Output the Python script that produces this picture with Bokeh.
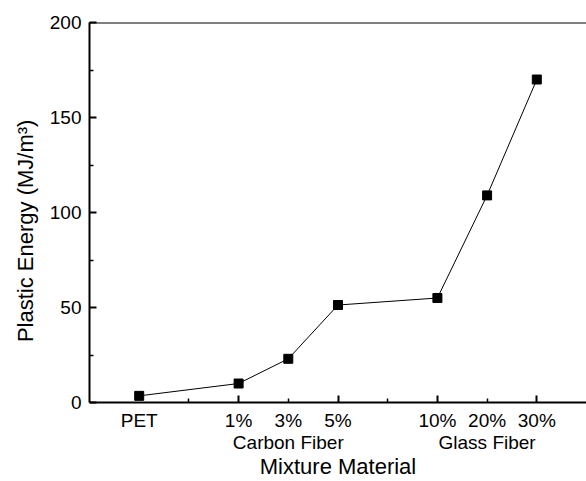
from bokeh.plotting import figure
from bokeh.models import FixedTicker, LinearAxis, Range1d, Span
from bokeh.embed import file_html
from bokeh.resources import INLINE

# ---- data ----
categories = ["PET", "1%", "3%", "5%", "10%", "20%", "30%"]
x_pos = [0, 2, 3, 4, 6, 7, 8]
energy = [3.5, 10, 23, 51.3, 55, 109, 170]
group_labels = ["Carbon Fiber", "Glass Fiber"]
group_pos = [3, 7]
y_ticks = [0, 50, 100, 150, 200]
y_minor = [25, 75, 125, 175]
x_major_marks = [2, 4, 6, 8]
x_minor_marks = [1, 3, 5, 7]

FONT = "Liberation Sans"
TICK_SIZE = "19px"
LABEL_SIZE = "22px"

p = figure(width=586, height=481, output_backend="svg", toolbar_location=None,
           x_range=Range1d(-1, 9), y_range=Range1d(0, 200),
           min_border_left=89, min_border_right=0, min_border_top=22,
           min_border_bottom=79)
p.background_fill_color = "white"
p.border_fill_color = "white"
p.outline_line_color = None
p.grid.visible = False

# data
p.line(x_pos, energy, line_color="black", line_width=1)
p.scatter(x_pos, energy, marker="square", size=9, fill_color="black", line_color="black")

# top border line
p.add_layout(Span(location=200, dimension="width", line_color="black", line_width=2))

# y axis
ya = p.yaxis[0]
ya.ticker = FixedTicker(ticks=y_ticks, minor_ticks=y_minor)
ya.axis_label = "Plastic Energy (MJ/m³)" + "\u00a0" * 6
ya.axis_label_text_font = FONT
ya.axis_label_text_font_style = "normal"
ya.axis_label_text_font_size = LABEL_SIZE
ya.axis_label_text_color = "black"
ya.axis_label_standoff = 9
ya.major_label_text_font = FONT
ya.major_label_text_font_size = TICK_SIZE
ya.major_label_text_color = "black"
ya.major_label_standoff = 8
ya.axis_line_width = 2
ya.major_tick_in = 7
ya.major_tick_out = 0
ya.minor_tick_in = 4
ya.minor_tick_out = 0
ya.major_tick_line_width = 2
ya.minor_tick_line_width = 1.5

# x axis: tick marks only
xa = p.xaxis[0]
xa.ticker = FixedTicker(ticks=x_major_marks, minor_ticks=x_minor_marks)
xa.major_label_overrides = {x: "" for x in x_major_marks}
xa.major_label_text_font_size = "1px"
xa.major_label_standoff = 0
xa.axis_line_width = 2
xa.major_tick_in = 7
xa.major_tick_out = 0
xa.minor_tick_in = 4
xa.minor_tick_out = 0
xa.major_tick_line_width = 2
xa.minor_tick_line_width = 1.5

# x axis: category labels
xl = LinearAxis(ticker=FixedTicker(ticks=x_pos, minor_ticks=[]),
                major_label_overrides={x: c for x, c in zip(x_pos, categories)})
xl.axis_line_color = None
xl.major_tick_line_color = None
xl.minor_tick_line_color = None
xl.major_tick_in = 0
xl.major_tick_out = 0
xl.major_label_standoff = 7
xl.major_label_text_font = FONT
xl.major_label_text_font_size = TICK_SIZE
xl.major_label_text_color = "black"
p.add_layout(xl, "below")

# x axis: group labels + title
xg = LinearAxis(ticker=FixedTicker(ticks=group_pos, minor_ticks=[]),
                major_label_overrides={x: g for x, g in zip(group_pos, group_labels)})
xg.axis_line_color = None
xg.major_tick_line_color = None
xg.minor_tick_line_color = None
xg.major_tick_in = 0
xg.major_tick_out = 0
xg.major_label_standoff = -2
xg.major_label_text_font = FONT
xg.major_label_text_font_size = TICK_SIZE
xg.major_label_text_color = "black"
xg.axis_label = "Mixture Material"
xg.axis_label_text_font = FONT
xg.axis_label_text_font_style = "normal"
xg.axis_label_text_font_size = LABEL_SIZE
xg.axis_label_text_color = "black"
xg.axis_label_text_baseline = "bottom"
xg.axis_label_standoff = -2
p.add_layout(xg, "below")

open("out.html", "w").write(file_html(p, INLINE))
